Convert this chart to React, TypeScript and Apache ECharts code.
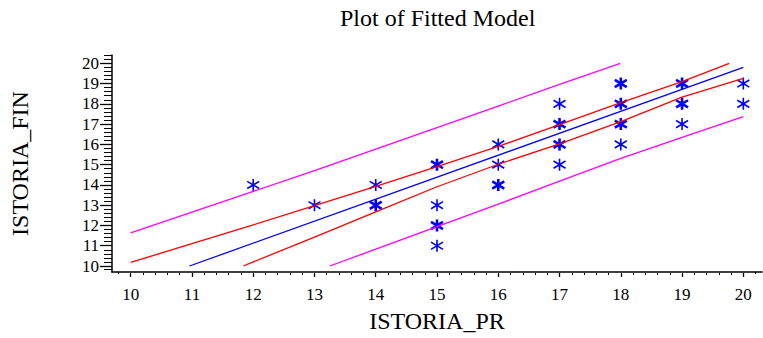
import React, { useEffect, useRef } from "react";
import * as echarts from "echarts";

// Axis ticks / labels
const xMin = 10;
const xMax = 20;
const yMin = 10;
const yMax = 20;
const tickStep = 1;
const xOuterMinorTicks = [9.8, 20.2];
const yOuterMinorTicks = [9.8, 20.2, 20.4];

// Observed points (count = number of coincident observations)
const pointX = [12, 13, 14, 14, 15, 15, 15, 15, 16, 16, 16, 17, 17, 17, 17, 18, 18, 18, 18, 19, 19, 19, 20, 20];
const pointY = [14, 13, 14, 13, 15, 13, 12, 11, 16, 15, 14, 18, 17, 16, 15, 19, 18, 17, 16, 19, 18, 17, 19, 18];
const pointCount = [1, 1, 1, 2, 2, 1, 2, 1, 1, 1, 2, 1, 2, 2, 1, 2, 2, 2, 1, 2, 2, 1, 1, 1];

// Fitted line
const fitX = [10.96, 20];
const fitY = [10.0, 19.8];
// Confidence limits (red)
const ciUpperX = [10, 11, 12, 13, 14, 15, 16, 17, 18, 19, 19.77];
const ciUpperY = [10.18, 11.1, 12.03, 12.98, 13.93, 14.9, 15.9, 16.98, 18.06, 19.1, 20.0];
const ciLowerX = [11.84, 12, 13, 14, 15, 16, 17, 18, 19, 20];
const ciLowerY = [10.0, 10.2, 11.43, 12.67, 13.91, 15.02, 16.02, 17.12, 18.33, 19.26];
// Prediction limits (magenta)
const piUpperX = [10, 11, 12, 13, 14, 15, 16, 17, 17.99];
const piUpperY = [11.64, 12.66, 13.68, 14.71, 15.77, 16.83, 17.89, 18.96, 20.0];
const piLowerX = [13.25, 14, 15, 16, 17, 18, 19, 20];
const piLowerY = [10.0, 10.83, 11.94, 13.05, 14.19, 15.31, 16.35, 17.37];

const FONT = "Liberation Serif";
const ASTERISK = "path://M5,0L5,10M0,2L10,8M0,8L10,2";

const pairs = (xs: number[], ys: number[]) => xs.map((x, i) => [x, ys[i]]);

export default function App() {
  const ref = useRef<HTMLDivElement>(null);
  useEffect(() => {
    if (!ref.current) return;
    const chart = echarts.init(ref.current, undefined, { renderer: "svg" });
    const lineSeries = (xs: number[], ys: number[], color: string) => ({
      type: "line",
      data: pairs(xs, ys),
      xAxisIndex: 1,
      yAxisIndex: 1,
      showSymbol: false,
      symbol: "none",
      lineStyle: { color, width: 1.3 },
      silent: true,
      clip: false,
    });
    const labelStyle = { fontFamily: FONT, fontSize: 17, color: "#000" };
    chart.setOption({
      animation: false,
      textStyle: { fontFamily: FONT, color: "#000" },
      title: {
        text: "Plot of Fitted Model",
        left: 340,
        top: 6,
        padding: 0,
        textStyle: { fontFamily: FONT, fontSize: 24, fontWeight: "normal", color: "#000" },
      },
      grid: [
        { left: 112, top: 55, width: 650, height: 218, containLabel: false },
        { left: 130.69, top: 63.31, width: 612.63, height: 202.7, containLabel: false },
      ],
      xAxis: [
        {
          gridIndex: 0,
          type: "value",
          min: 9.695,
          max: 20.305,
          position: "bottom",
          axisLine: { show: true, lineStyle: { color: "#000", width: 1.5 } },
          axisTick: { show: true, customValues: xOuterMinorTicks, length: 2, lineStyle: { color: "#000", width: 1 } },
          axisLabel: { show: false },
          splitLine: { show: false },
          name: "ISTORIA_PR",
          nameLocation: "middle",
          nameGap: 37,
          nameTextStyle: { fontFamily: FONT, fontSize: 24, color: "#000" },
        },
        {
          gridIndex: 1,
          type: "value",
          min: xMin,
          max: xMax,
          interval: tickStep,
          position: "bottom",
          offset: 7,
          axisLine: { show: false },
          axisTick: { show: true, length: 4, lineStyle: { color: "#000", width: 1.3 } },
          minorTick: { show: true, splitNumber: 5, length: 2, lineStyle: { color: "#000", width: 1 } },
          axisLabel: { margin: 13, ...labelStyle },
          splitLine: { show: false },
          minorSplitLine: { show: false },
        },
      ],
      yAxis: [
        {
          gridIndex: 0,
          type: "value",
          min: 9.655,
          max: 20.41,
          position: "left",
          axisLine: { show: true, lineStyle: { color: "#000", width: 1.5 } },
          axisTick: { show: true, customValues: yOuterMinorTicks, length: 8, lineStyle: { color: "#000", width: 1 } },
          axisLabel: { show: false },
          splitLine: { show: false },
          name: "ISTORIA_FIN",
          nameLocation: "middle",
          nameGap: 80,
          nameTextStyle: { fontFamily: FONT, fontSize: 24, color: "#000" },
        },
        {
          gridIndex: 1,
          type: "value",
          min: yMin,
          max: yMax,
          interval: tickStep,
          position: "left",
          offset: 18.69,
          axisLine: { show: false },
          axisTick: { show: true, length: 12, lineStyle: { color: "#000", width: 1.3 } },
          minorTick: { show: true, splitNumber: 5, length: 8, lineStyle: { color: "#000", width: 1 } },
          axisLabel: { margin: 13, ...labelStyle },
          splitLine: { show: false },
          minorSplitLine: { show: false },
        },
      ],
      series: [
        lineSeries(piUpperX, piUpperY, "#ff00ff"),
        lineSeries(piLowerX, piLowerY, "#ff00ff"),
        lineSeries(ciUpperX, ciUpperY, "#ff0000"),
        lineSeries(ciLowerX, ciLowerY, "#ff0000"),
        lineSeries(fitX, fitY, "#0000ff"),
        {
          type: "scatter",
          xAxisIndex: 1,
          yAxisIndex: 1,
          symbol: ASTERISK,
          symbolSize: [12, 12],
          silent: true,
          clip: false,
          data: pointX.map((x, i) => ({
            value: [x, pointY[i]],
            itemStyle: {
              color: "rgba(0,0,0,0)",
              borderColor: "#0000ff",
              borderWidth: pointCount[i] > 1 ? 2.6 : 1.6,
              opacity: 1,
            },
          })),
        },
      ],
    });
    return () => chart.dispose();
  }, []);
  return (
    <div
      ref={ref}
      style={{ position: "absolute", left: 0, top: 0, width: 763, height: 338, background: "#fff" }}
    />
  );
}
